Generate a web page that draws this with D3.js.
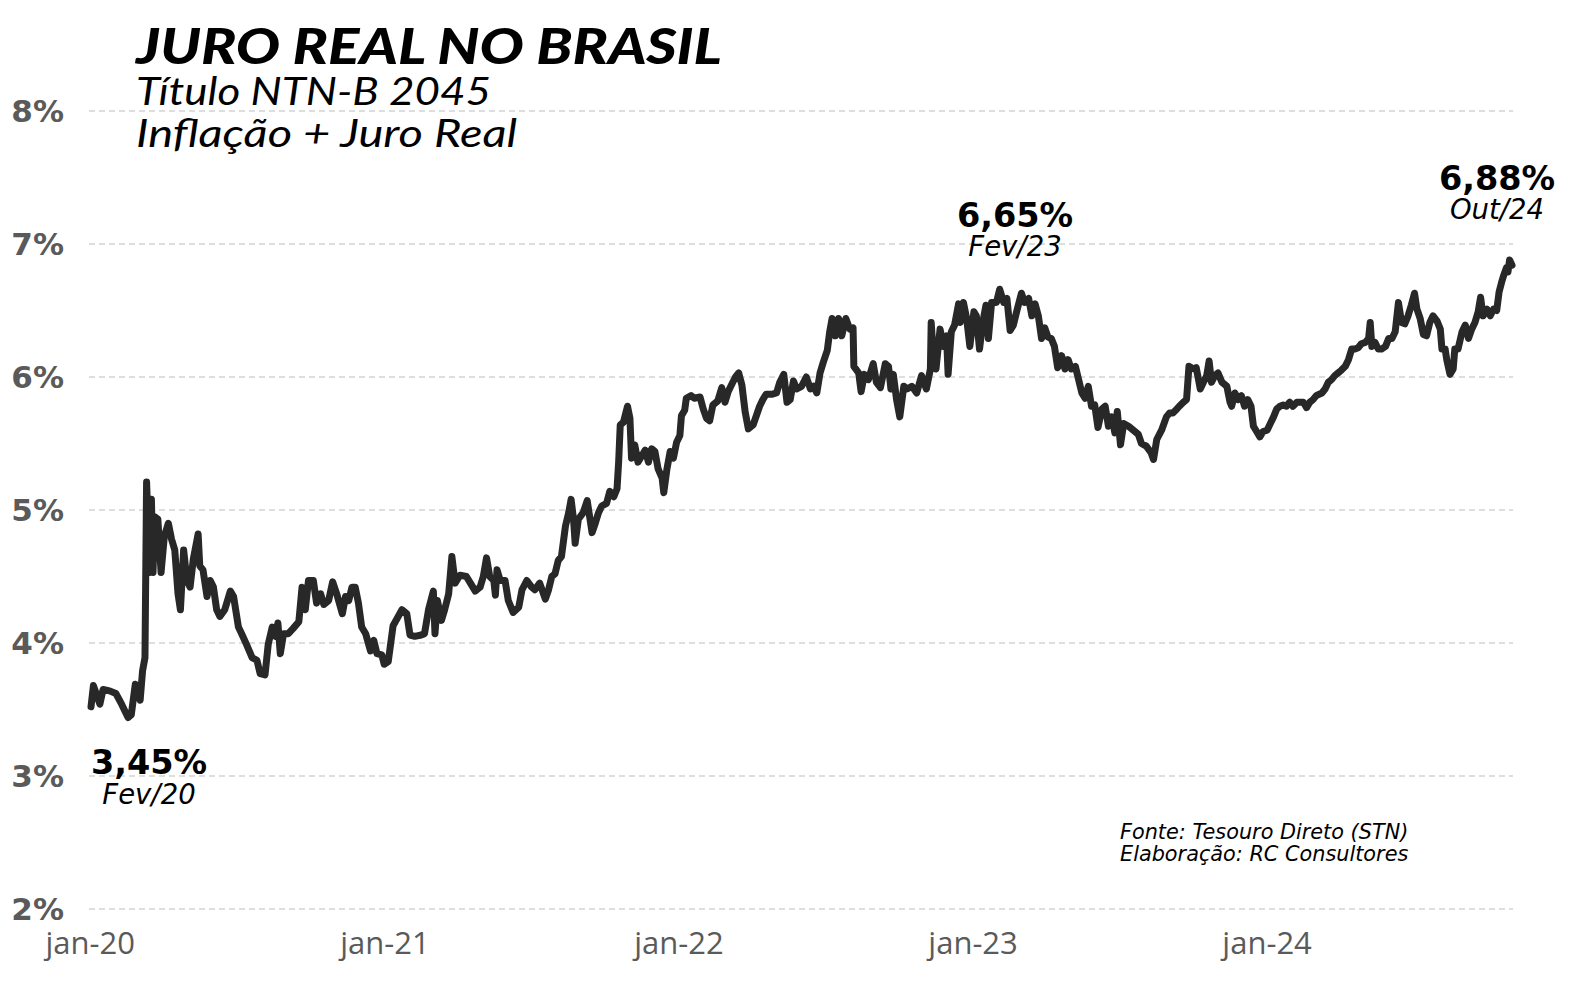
<!DOCTYPE html>
<html>
<head>
<meta charset="utf-8">
<script src="https://cdn.jsdelivr.net/npm/d3@7"></script>
<style>
  html, body { margin: 0; padding: 0; background: #ffffff; }
  svg { display: block; }
</style>
</head>
<body>
<svg id="chart" width="1582" height="985"></svg>
<script>
// ---------------- DATA ----------------
const yTicks = [2, 3, 4, 5, 6, 7, 8];
const yTickLabels = ["2%", "3%", "4%", "5%", "6%", "7%", "8%"];
const xTicks = ["2020-01-01", "2021-01-01", "2022-01-01", "2023-01-01", "2024-01-01"];
const xTickLabels = ["jan-20", "jan-21", "jan-22", "jan-23", "jan-24"];

const data2020 = [
  ["2020-01-02",3.52],["2020-01-05",3.68],["2020-01-13",3.54],["2020-01-17",3.65],["2020-01-25",3.64],
  ["2020-02-02",3.62],["2020-02-09",3.54],["2020-02-17",3.44],["2020-02-21",3.46],["2020-02-26",3.69],
  ["2020-03-03",3.57],["2020-03-06",3.79],["2020-03-09",3.89],["2020-03-11",5.21],["2020-03-15",4.53],
  ["2020-03-17",5.08],["2020-03-19",4.53],["2020-03-21",4.95],["2020-03-25",4.93],["2020-03-29",4.53],
  ["2020-04-02",4.80],["2020-04-07",4.90],["2020-04-11",4.78],["2020-04-15",4.70],["2020-04-19",4.37],
  ["2020-04-22",4.25],["2020-04-26",4.70],["2020-04-30",4.47],["2020-05-04",4.42],["2020-05-08",4.63],
  ["2020-05-14",4.82],["2020-05-16",4.58],["2020-05-20",4.55],["2020-05-25",4.35],["2020-05-29",4.47],
  ["2020-06-02",4.42],["2020-06-06",4.25],["2020-06-10",4.20],["2020-06-16",4.25],["2020-06-23",4.39],
  ["2020-06-27",4.35],["2020-07-03",4.12],["2020-07-07",4.07],["2020-07-13",3.99],["2020-07-20",3.89],
  ["2020-07-26",3.87],["2020-07-30",3.77],["2020-08-05",3.76],["2020-08-09",3.99],["2020-08-14",4.12],
  ["2020-08-18",4.05],["2020-08-21",4.15],["2020-08-24",3.92],["2020-08-28",4.07],["2020-09-03",4.07],
  ["2020-09-09",4.11],["2020-09-16",4.16],["2020-09-20",4.42],["2020-09-24",4.25],["2020-09-28",4.47],
  ["2020-10-04",4.47],["2020-10-08",4.30],["2020-10-13",4.37],["2020-10-17",4.29],["2020-10-23",4.32],
  ["2020-10-28",4.46],["2020-11-02",4.37],["2020-11-09",4.22],["2020-11-13",4.35],["2020-11-17",4.32],
  ["2020-11-21",4.42],["2020-11-25",4.42],["2020-11-29",4.30],["2020-12-03",4.12],["2020-12-08",4.07],
  ["2020-12-14",3.94],["2020-12-18",4.02],["2020-12-22",3.92],["2020-12-28",3.91],["2020-12-31",3.84]
];
const data2021 = [
  ["2021-01-05",3.86],["2021-01-11",4.13],["2021-01-22",4.25],["2021-01-28",4.22],["2021-02-01",4.06],
  ["2021-02-07",4.05],["2021-02-15",4.06],["2021-02-19",4.07],["2021-02-24",4.25],["2021-03-02",4.39],
  ["2021-03-04",4.07],["2021-03-07",4.32],["2021-03-12",4.17],["2021-03-16",4.25],["2021-03-21",4.37],
  ["2021-03-25",4.65],["2021-03-29",4.45],["2021-04-04",4.51],["2021-04-12",4.50],["2021-04-17",4.45],
  ["2021-04-23",4.39],["2021-04-29",4.42],["2021-05-03",4.50],["2021-05-07",4.64],["2021-05-11",4.50],
  ["2021-05-16",4.47],["2021-05-18",4.36],["2021-05-20",4.55],["2021-05-24",4.47],["2021-05-30",4.47],
  ["2021-06-03",4.32],["2021-06-09",4.23],["2021-06-16",4.27],["2021-06-20",4.40],["2021-06-26",4.47],
  ["2021-07-02",4.42],["2021-07-06",4.40],["2021-07-12",4.45],["2021-07-19",4.33],["2021-07-23",4.40],
  ["2021-07-27",4.50],["2021-07-31",4.52],["2021-08-04",4.62],["2021-08-08",4.65],["2021-08-13",4.88],
  ["2021-08-17",4.98],["2021-08-20",5.08],["2021-08-23",4.93],["2021-08-25",4.75],["2021-08-29",4.93],
  ["2021-09-04",4.98],["2021-09-09",5.07],["2021-09-15",4.83],["2021-09-19",4.90],["2021-09-23",4.98],
  ["2021-09-27",5.03],["2021-10-03",5.05],["2021-10-07",5.14],["2021-10-12",5.10],["2021-10-16",5.16],
  ["2021-10-18",5.36],["2021-10-20",5.64],["2021-10-24",5.66],["2021-10-29",5.78],["2021-11-01",5.69],
  ["2021-11-03",5.39],["2021-11-07",5.49],["2021-11-11",5.36],["2021-11-16",5.41],["2021-11-20",5.45],
  ["2021-11-24",5.36],["2021-11-28",5.46],["2021-12-02",5.44],["2021-12-06",5.31],["2021-12-11",5.24],
  ["2021-12-13",5.13],["2021-12-17",5.31],["2021-12-21",5.44],["2021-12-25",5.39],["2021-12-29",5.51]
];
const data2022 = [
  ["2022-01-02",5.56],["2022-01-04",5.71],["2022-01-08",5.75],["2022-01-10",5.84],["2022-01-16",5.86],
  ["2022-01-20",5.84],["2022-01-27",5.85],["2022-01-31",5.76],["2022-02-04",5.69],["2022-02-08",5.67],
  ["2022-02-12",5.79],["2022-02-18",5.82],["2022-02-23",5.92],["2022-02-27",5.81],["2022-03-03",5.89],
  ["2022-03-07",5.94],["2022-03-12",6.00],["2022-03-16",6.03],["2022-03-20",5.94],["2022-03-24",5.74],
  ["2022-03-28",5.61],["2022-04-03",5.64],["2022-04-11",5.78],["2022-04-15",5.83],["2022-04-19",5.87],
  ["2022-04-26",5.87],["2022-05-02",5.88],["2022-05-06",5.96],["2022-05-11",6.02],["2022-05-15",5.81],
  ["2022-05-19",5.83],["2022-05-23",5.97],["2022-05-27",5.91],["2022-06-02",5.93],["2022-06-08",6.00],
  ["2022-06-13",5.91],["2022-06-17",5.93],["2022-06-21",5.88],["2022-06-25",6.03],["2022-06-29",6.11],
  ["2022-07-04",6.20],["2022-07-07",6.34],["2022-07-10",6.44],["2022-07-14",6.31],["2022-07-18",6.44],
  ["2022-07-22",6.31],["2022-07-27",6.44],["2022-08-01",6.36],["2022-08-05",6.37],["2022-08-06",6.08],
  ["2022-08-12",6.03],["2022-08-15",5.89],["2022-08-19",6.02],["2022-08-24",5.98],["2022-08-30",6.10],
  ["2022-09-03",5.96],["2022-09-08",5.92],["2022-09-14",6.10],["2022-09-18",6.08],["2022-09-21",5.91],
  ["2022-09-24",6.02],["2022-09-28",5.83],["2022-10-02",5.70],["2022-10-07",5.93],["2022-10-11",5.91],
  ["2022-10-17",5.93],["2022-10-23",5.88],["2022-10-29",6.01],["2022-11-04",5.91],["2022-11-09",6.06],
  ["2022-11-10",6.41],["2022-11-13",6.13],["2022-11-16",6.06],["2022-11-21",6.36],["2022-11-25",6.23],
  ["2022-11-29",6.31],["2022-12-01",6.02],["2022-12-05",6.34],["2022-12-09",6.39],["2022-12-14",6.55],
  ["2022-12-16",6.41],["2022-12-20",6.56],["2022-12-24",6.44],["2022-12-28",6.23]
];
const data2023 = [
  ["2023-01-02",6.49],["2023-01-05",6.46],["2023-01-09",6.21],["2023-01-13",6.41],["2023-01-17",6.54],
  ["2023-01-20",6.29],["2023-01-24",6.56],["2023-01-30",6.56],["2023-02-03",6.66],["2023-02-08",6.56],
  ["2023-02-12",6.59],["2023-02-16",6.35],["2023-02-20",6.39],["2023-02-24",6.49],["2023-03-02",6.63],
  ["2023-03-06",6.56],["2023-03-11",6.59],["2023-03-15",6.46],["2023-03-19",6.55],["2023-03-23",6.46],
  ["2023-03-27",6.29],["2023-03-31",6.37],["2023-04-04",6.30],["2023-04-08",6.29],["2023-04-12",6.23],
  ["2023-04-16",6.07],["2023-04-21",6.16],["2023-04-25",6.06],["2023-04-29",6.13],["2023-05-03",6.06],
  ["2023-05-08",6.08],["2023-05-12",5.98],["2023-05-16",5.88],["2023-05-20",5.84],["2023-05-24",5.93],
  ["2023-05-28",5.78],["2023-06-01",5.79],["2023-06-05",5.62],["2023-06-10",5.76],["2023-06-14",5.78],
  ["2023-06-18",5.63],["2023-06-22",5.70],["2023-06-26",5.58],["2023-06-29",5.74],["2023-07-03",5.49],
  ["2023-07-07",5.65],["2023-07-13",5.63],["2023-07-19",5.60],["2023-07-25",5.57],["2023-07-29",5.50],
  ["2023-08-04",5.48],["2023-08-10",5.43],["2023-08-13",5.38],["2023-08-17",5.53],["2023-08-23",5.60],
  ["2023-08-29",5.70],["2023-09-02",5.73],["2023-09-06",5.73],["2023-09-11",5.76],["2023-09-14",5.78],
  ["2023-09-19",5.81],["2023-09-23",5.83],["2023-09-26",6.08],["2023-10-02",6.06],["2023-10-05",6.07],
  ["2023-10-10",5.91],["2023-10-14",5.96],["2023-10-18",6.01],["2023-10-21",6.12],["2023-10-24",5.96],
  ["2023-10-28",6.01],["2023-11-01",6.03],["2023-11-06",5.96],["2023-11-12",5.93],["2023-11-16",5.81],
  ["2023-11-18",5.78],["2023-11-22",5.88],["2023-11-26",5.83],["2023-11-30",5.86],["2023-12-04",5.78],
  ["2023-12-08",5.83],["2023-12-12",5.78],["2023-12-15",5.63],["2023-12-19",5.59],["2023-12-23",5.55],
  ["2023-12-27",5.59]
];
const data2024 = [
  ["2024-01-01",5.60],["2024-01-05",5.65],["2024-01-09",5.70],["2024-01-13",5.76],["2024-01-17",5.78],
  ["2024-01-21",5.79],["2024-01-25",5.78],["2024-01-29",5.81],["2024-02-02",5.78],["2024-02-07",5.81],
  ["2024-02-11",5.81],["2024-02-15",5.81],["2024-02-19",5.77],["2024-02-23",5.81],["2024-02-27",5.83],
  ["2024-03-02",5.86],["2024-03-09",5.88],["2024-03-13",5.91],["2024-03-17",5.96],["2024-03-21",5.98],
  ["2024-03-25",6.01],["2024-03-29",6.03],["2024-04-02",6.05],["2024-04-07",6.08],["2024-04-11",6.13],
  ["2024-04-15",6.21],["2024-04-19",6.21],["2024-04-23",6.22],["2024-04-27",6.25],["2024-05-02",6.26],
  ["2024-05-06",6.29],["2024-05-08",6.41],["2024-05-10",6.23],["2024-05-14",6.26],["2024-05-18",6.21],
  ["2024-05-22",6.21],["2024-05-27",6.23],["2024-05-31",6.29],["2024-06-04",6.29],["2024-06-08",6.34],
  ["2024-06-12",6.56],["2024-06-16",6.41],["2024-06-20",6.40],["2024-06-24",6.46],["2024-06-28",6.54],
  ["2024-07-02",6.63],["2024-07-05",6.51],["2024-07-09",6.44],["2024-07-13",6.32],["2024-07-17",6.31],
  ["2024-07-21",6.41],["2024-07-25",6.46],["2024-07-30",6.42],["2024-08-03",6.36],["2024-08-05",6.21],
  ["2024-08-09",6.21],["2024-08-11",6.13],["2024-08-15",6.02],["2024-08-19",6.06],["2024-08-21",6.21],
  ["2024-08-25",6.21],["2024-08-30",6.34],["2024-09-03",6.39],["2024-09-07",6.29],["2024-09-11",6.36],
  ["2024-09-15",6.41],["2024-09-19",6.49],["2024-09-22",6.60],["2024-09-25",6.46],["2024-09-30",6.51],
  ["2024-10-04",6.46],["2024-10-08",6.51],["2024-10-12",6.50],["2024-10-15",6.64],["2024-10-18",6.71],
  ["2024-10-21",6.77],["2024-10-24",6.82],["2024-10-26",6.79],["2024-10-28",6.88],["2024-10-31",6.84]
];

const annotations = [
  { value: "3,45%", label: "Fev/20", pos: "low" },
  { value: "6,65%", label: "Fev/23", pos: "mid" },
  { value: "6,88%", label: "Out/24", pos: "end" }
];

const titleText = "JURO REAL NO BRASIL";
const subtitleLines = ["Título NTN-B 2045", "Inflação + Juro Real"];
const sourceLines = ["Fonte: Tesouro Direto (STN)", "Elaboração: RC Consultores"];

// ---------------- CHART ----------------
const parse = d3.timeParse("%Y-%m-%d");
const series = [].concat(data2020, data2021, data2022, data2023, data2024)
  .map(d => ({ date: parse(d[0]), value: d[1] }));

const svg = d3.select("#chart");
svg.append("rect").attr("width", 1582).attr("height", 985).attr("fill", "#ffffff");

const x = d3.scaleTime()
  .domain([parse("2020-01-02"), parse("2024-10-31")])
  .range([91, 1512]);
const y = d3.scaleLinear().domain([2, 8]).range([909, 111]);

const gridX0 = 89, gridX1 = 1513;

// gridlines
svg.append("g").selectAll("line").data(yTicks).join("line")
  .attr("x1", gridX0).attr("x2", gridX1)
  .attr("y1", d => y(d)).attr("y2", d => y(d))
  .attr("stroke", "#d3d3d3").attr("stroke-width", 1.6)
  .attr("stroke-dasharray", "6,4");

// y labels
svg.append("g").selectAll("text").data(yTicks).join("text")
  .attr("x", 64).attr("y", d => y(d)).attr("dy", "0.36em")
  .attr("text-anchor", "end")
  .attr("font-family", "DejaVu Sans").attr("font-weight", "bold")
  .attr("font-size", 31).attr("fill", "#5a5a5a")
  .text((d, i) => yTickLabels[i]);

// x labels
svg.append("g").selectAll("text").data(xTicks).join("text")
  .attr("x", d => x(parse(d))).attr("y", 954)
  .attr("text-anchor", "middle")
  .attr("font-family", "Open Sans").attr("font-size", 31).attr("fill", "#5a5a5a")
  .text((d, i) => xTickLabels[i]);

// line
const line = d3.line().x(d => x(d.date)).y(d => y(d.value));
svg.append("path").datum(series)
  .attr("d", line)
  .attr("fill", "none").attr("stroke", "#282828")
  .attr("stroke-width", 7).attr("stroke-linejoin", "round").attr("stroke-linecap", "round");

// title
svg.append("text").attr("x", 136).attr("y", 64)
  .attr("font-family", "Lato").attr("font-weight", 900).attr("font-style", "italic")
  .attr("font-size", 50).attr("fill", "#000")
  .attr("textLength", 586).attr("lengthAdjust", "spacingAndGlyphs")
  .text(titleText);
const subLens = [355, 381];
svg.append("g").selectAll("text").data(subtitleLines).join("text")
  .attr("x", 136).attr("y", (d, i) => 105 + i * 42)
  .attr("font-family", "Lato").attr("font-style", "italic")
  .attr("font-size", 39).attr("fill", "#000")
  .attr("textLength", (d, i) => subLens[i]).attr("lengthAdjust", "spacingAndGlyphs")
  .text(d => d);

// annotations
const annPos = {
  low: { cx: 149, dv: 774, dl: 804 },
  mid: { cx: 1015, dv: 227, dl: 256 },
  end: { cx: 1497, dv: 190, dl: 219 }
};
const ann = svg.append("g");
annotations.forEach(a => {
  const p = annPos[a.pos];
  ann.append("text").attr("x", p.cx).attr("y", p.dv)
    .attr("text-anchor", "middle")
    .attr("font-family", "DejaVu Sans").attr("font-weight", "bold")
    .attr("font-size", 33.5).attr("fill", "#000").text(a.value);
  ann.append("text").attr("x", p.cx).attr("y", p.dl)
    .attr("text-anchor", "middle")
    .attr("font-family", "DejaVu Sans").attr("font-style", "italic")
    .attr("font-size", 27.5).attr("fill", "#000").text(a.label);
});

// source
svg.append("g").selectAll("text").data(sourceLines).join("text")
  .attr("x", 1120).attr("y", (d, i) => 839 + i * 22)
  .attr("font-family", "DejaVu Sans").attr("font-style", "italic")
  .attr("font-size", 20.8).attr("fill", "#000")
  .text(d => d);
</script>
</body>
</html>
